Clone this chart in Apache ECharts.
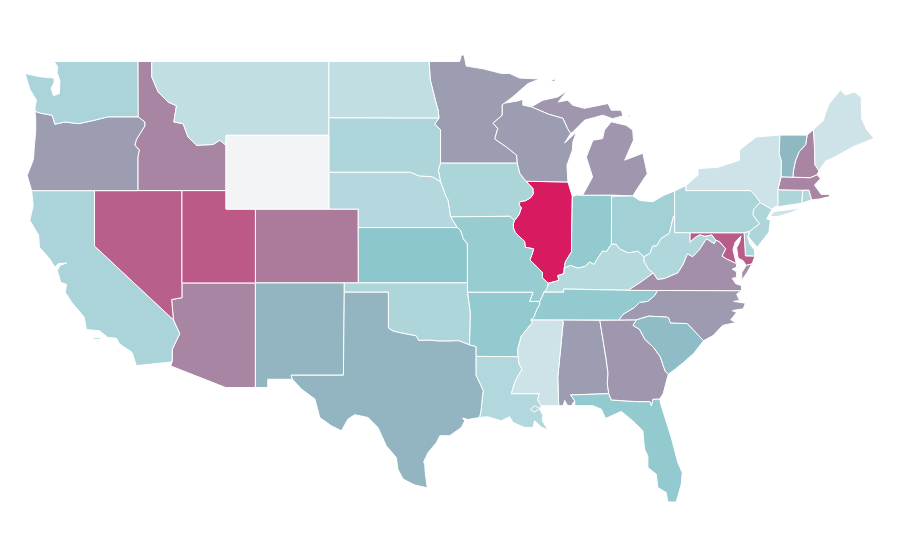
<!DOCTYPE html>
<html>
<head>
<meta charset="utf-8">
<title>US states</title>
<script src="https://cdn.jsdelivr.net/npm/echarts@6/dist/echarts.min.js"></script>
<style>
html, body { margin: 0; padding: 0; background: #fff; }
#chart { width: 900px; height: 560px; }
</style>
</head>
<body>
<div id="chart"></div>
<script>
var stateNames = ['AL','AZ','AR','CA','CO','CT','DE','FL','GA','ID','IL','IN','IA','KS','KY','LA','ME','MD','MA','MI','MN','MS','MO','MT','NE','NV','NH','NJ','NM','NY','NC','ND','OH','OK','OR','PA','RI','SC','SD','TN','TX','UT','VT','VA','WA','WV','WI','WY'];
var stateValues = [62,69,46,35,72,33,34,46,64,69,100,46,34,49,29,31,18,81,69,64,62,18,44,24,30,80,69,33,55,18,63,24,39,33,62,34,30,53,33,46,55,82,54,66,35,32,62,0];
var scaleColors = ['#f3f4f6','#8ac6cc','#d81b60'];

// shared borders, lon,lat (NAME_R in a shape means walk it backwards)
var borders = {
  WIMN: '-92.1,46.74 -92.25,46.66 -92.25,46.09 -92.88,45.65 -92.55,45.38 -92.76,44.8 -91.97,44.37 -91.27,43.92 -91.22,43.5',
  WIIA: '-91.22,43.5 -91.15,43.25 -91.06,42.95 -90.64,42.51',
  IAIL: '-90.64,42.51 -90.42,42.33 -90.17,42.12 -90.14,41.83 -90.34,41.6 -90.66,41.46 -91.05,41.4 -91.11,41.24 -90.95,41.07 -91.11,40.7 -91.42,40.38',
  MOIL: '-91.42,40.38 -91.5,40.2 -91.5,40 -91.37,39.73 -90.73,39.25 -90.68,38.93 -90.12,38.85 -90.2,38.6 -90.37,38.25 -89.9,37.88 -89.52,37.57 -89.52,37.28 -89.13,36.98',
  MOKY: '-89.13,36.98 -89.2,36.7 -89.42,36.5',
  MOTN: '-89.42,36.5 -89.53,36.25 -89.7,36',
  ARTN: '-89.7,36 -89.7,35.82 -89.9,35.55 -90.1,35.13 -90.3,35',
  ARMS: '-90.3,35 -90.2,34.85 -90.57,34.5 -90.95,34.12 -91.08,33.75 -91.2,33.4 -91.17,33',
  LAMS: '-91.17,33 -91.1,32.6 -90.9,32.33 -91.15,32 -91.4,31.6 -91.63,31 -89.73,31 -89.85,30.67 -89.6,30.35',
  ILKY: '-89.13,36.98 -88.6,37.09 -88.4,37.15 -88.47,37.4 -88.06,37.5 -88.03,37.8',
  INKY: '-88.03,37.8 -87.6,37.95 -87.1,37.8 -86.6,37.9 -86.3,38.13 -86,38 -85.8,38.27 -85.43,38.73 -85.17,38.69 -84.82,39.1',
  OHKY: '-84.82,39.1 -84.5,39.1 -84.23,38.83 -83.68,38.63 -83.03,38.73 -82.6,38.42',
  OHWV: '-82.6,38.42 -82.2,38.6 -82,39 -81.75,39 -81.45,39.4 -80.87,39.7 -80.6,40.6 -80.52,40.64',
  ILIN: '-88.03,37.8 -87.95,38.15 -87.53,38.7 -87.53,39.35 -87.48,41.68',
  KYWV: '-82.6,38.42 -82.6,38.17 -82.3,37.75 -81.97,37.54',
  KYVA: '-81.97,37.54 -82.72,37.1 -83.68,36.6',
  KYTN: '-89.42,36.5 -88.07,36.5 -88.07,36.67 -83.68,36.6',
  VAWV: '-81.97,37.54 -81.68,37.2 -81.23,37.24 -80.3,37.55 -79.95,38 -79.65,38.58 -79.3,38.42 -78.87,38.77 -78.35,39.4 -77.83,39.13 -77.72,39.32',
  MDWV: '-77.72,39.32 -78,39.6 -78.45,39.52 -78.8,39.6 -79.1,39.47 -79.48,39.2 -79.48,39.72',
  MDVA: '-76.32,38.05 -77,38.3 -77.3,38.45 -77.05,38.85 -77.45,39.22 -77.72,39.32',
  NCTN: '-84.32,34.99 -84.03,35.3 -83.24,35.68 -82.9,35.95 -82.35,36 -81.9,36.3 -81.68,36.59',
  NCSC: '-78.55,33.87 -79.67,34.8 -80.8,34.82 -80.93,35.1 -81.05,35.15 -82.3,35.2 -83.11,35',
  GASC: '-83.11,35 -83.35,34.7 -82.9,34.48 -82.55,33.95 -81.95,33.5 -81.5,33 -81.15,32.2 -80.95,32.05',
  ALGA: '-85.61,34.98 -85.18,32.87 -85.05,32.1 -85.1,31.55 -85,31',
  FLGA: '-85,31 -84.83,30.66 -83.13,30.57 -82.2,30.57 -82.1,30.35 -82,30.7 -81.54,30.71',
  ALMS: '-88.2,35 -88.1,34.9 -88.47,31.9 -88.41,30.35',
  LATX: '-93.8,29.71 -93.7,30.05 -93.55,31.18 -94.04,32 -94.04,33.02',
  OKTX: '-94.48,33.64 -95.2,33.87 -96,33.85 -96.6,33.85 -97.2,33.9 -97.95,33.88 -98.1,34.13 -99.2,34.3 -99.7,34.4 -100,34.56 -100,36.5 -103,36.5',
  NMTX: '-103,36.5 -103.06,32 -106.62,32 -106.53,31.78',
  IANE: '-96.45,42.49 -96.1,41.7 -95.95,41.5 -95.85,41 -95.77,40.58',
  MNSD: '-96.45,43.5 -96.45,45.3 -96.85,45.6 -96.56,45.93',
  MNND: '-96.56,45.93 -96.6,46.3 -96.8,46.9 -97.15,48 -97.23,49',
  IASD: '-96.45,43.5 -96.6,43.1 -96.45,42.49',
  NESD: '-96.45,42.49 -97,42.75 -97.9,42.8 -98.5,43 -104.05,43',
  KSMO: '-95.31,40 -95.1,39.87 -94.9,39.4 -94.62,39.11 -94.62,37',
  IDMT: '-116.1,49 -116.1,48.16 -115.67,47.35 -114.99,46.8 -114.42,46.6 -114.6,45.72 -113.97,45.63 -113.63,44.9 -113.06,44.46 -111.93,44.5 -111.47,44.73 -111.05,44.46',
  IDOR: '-117.05,42 -117.05,43.83 -116.95,44.2 -117.25,44.46 -117.15,44.77 -116.58,45.5 -116.58,45.72 -117.03,46',
  ORWA: '-124.05,46.3 -123.67,46.2 -122.87,46.08 -122.7,45.6 -122,45.72 -121.1,45.63 -120.2,45.78 -119.07,46 -117.03,46',
  AZCA: '-114.63,35 -114.2,34.25 -114.7,33.42 -114.72,32.72',
  NJNY: '-75.35,42 -75.05,41.75 -74.7,41.36 -73.9,40.99',
  NJPA: '-74.7,41.36 -75.13,41 -75.2,40.7 -74.75,40.2 -75.41,39.8',
  VTNH: '-71.5,45.01 -71.6,44.5 -72.05,44.1 -72.3,43.6 -72.45,43 -72.46,42.73',
  NYVT: '-73.35,45.01 -73.4,44 -73.25,43.6 -73.27,42.75',
  MENH: '-71.08,45.3 -71,44.3 -70.98,43.4 -70.7,43.07'
};

var shapes = {
  WA: ['-124.73,48.35 -123.7,48.17 -122.75,48.1 -122.75,47.85 -122.95,47.55 -122.8,47.15 -122.4,47.25 -122.35,47.95 -122.55,48.4 -122.5,48.7 -122.75,49 -117.05,49 -117.03,46 ORWA_R -124.05,46.5 -123.95,46.9 -124.4,47.5'],
  OR: ['ORWA IDOR_R -124.28,42 -124.58,42.83 -124.15,43.7 -124.1,44.37 -124,45.2 -124,45.9'],
  CA: ['-124.28,42 -120,42 -120,39 AZCA -117.15,32.52 -117.45,33.24 -118.3,33.7 -118.5,34 -119.1,34.05 -119.65,34.41 -120.55,34.47 -120.7,35.14 -121.55,35.95 -122,36.5 -121.9,36.91 -122.3,37.04 -122.53,37.67 -122.35,37.95 -121.9,38.08 -122.45,38.05 -122.7,37.85 -123.05,38.31 -123.75,38.94 -123.8,39.58 -124.4,40.39 -124.17,41.2'],
  NV: ['-120,42 -114.05,42 -114.05,36.2 -114.75,36.1 -114.63,35 -120,39'],
  ID: ['-117.05,49 IDMT -111.05,42 IDOR -117.05,46.42'],
  MT: ['-116.1,49 -104.05,49 -104.05,45 -111.05,45 IDMT_R'],
  WY: ['-111.05,45 -104.05,45 -104.05,41 -111.05,41'],
  UT: ['-114.05,42 -111.05,42 -111.05,41 -109.05,41 -109.05,37 -114.05,37'],
  AZ: ['-114.05,37 -109.05,37 -109.05,31.33 -111.07,31.33 -114.81,32.5 AZCA_R -114.75,36.1 -114.05,36.2'],
  CO: ['-109.05,41 -102.05,41 -102.05,37 -109.05,37'],
  NM: ['-109.05,37 -103,37 NMTX -108.21,31.78 -108.21,31.33 -109.05,31.33'],
  ND: ['-104.05,49 -97.23,49 MNND_R -104.05,45.94'],
  SD: ['-104.05,45.94 -96.56,45.93 MNSD_R IASD NESD'],
  NE: ['NESD_R IANE -95.31,40 -102.05,40 -102.05,41 -104.05,41'],
  KS: ['-102.05,40 KSMO -102.04,37'],
  OK: ['-103,37 -94.62,37 -94.62,36.5 -94.43,35.39 OKTX'],
  TX: ['NMTX -105.92,31.25 -105,30.71 -104.67,29.71 -103.88,29.26 -103.2,28.99 -102.75,29.62 -102.29,29.86 -101.39,29.71 -100.71,29.17 -100.14,28.17 -99.46,27.54 -99.35,26.9 -99,26.37 -98.2,26.05 -97.35,25.9 -97.48,26.64 -97.53,27.18 -97.6,27.3 -97.3,27.81 -96.73,28.35 -96.5,28.72 -95.83,28.72 -95.03,29.17 -94.8,29.53 -94.95,29.68 -94.6,29.6 LATX -94.04,33.55 OKTX'],
  MN: ['MNND -95.15,49 -95.03,49.35 -94.85,49.35 -94.7,48.75 -93.55,48.6 -92.3,48.35 -91.75,48.35 -91.07,48.1 -89.7,48.05 -90.5,47.8 -91.55,47.07 WIMN -96.45,43.5 MNSD'],
  IA: ['-96.45,43.5 -91.22,43.5 WIIA IAIL -91.73,40.61 -95.77,40.58 IANE_R IASD_R'],
  MO: ['-95.77,40.58 -91.73,40.61 -91.42,40.38 MOIL MOKY MOTN -90.38,36 -90.15,36.5 -94.62,36.5 -94.62,37 KSMO_R'],
  AR: ['-94.62,36.5 -90.15,36.5 -90.38,36 ARTN ARMS -94.04,33.02 -94.04,33.55 -94.48,33.64 -94.43,35.39'],
  LA: ['-94.04,33.02 LAMS -89.7,30.16 -89.48,29.8 -89.52,29.53 -89.14,29.02 -89.6,29.2 -90.05,29.53 -90.16,29.17 -90.73,29.17 -91.52,29.44 -91.75,29.75 -92.32,29.53 -93.24,29.75 LATX', '-90.34,30.15 -90.05,30.35 -89.7,30.2 -90.05,30'],
  WI: ['WIMN WIIA -87.78,42.47 -87.85,43.37 -87.48,44.19 -87.44,44.64 -87.2,45.18 -88,44.58 -87.6,45.1 -87.8,45.35 -88.12,45.92 -89.09,46.14 -90.27,46.54 -90.85,46.63 -90.85,46.95 -91.2,46.86'],
  IL: ['-90.64,42.51 -87.78,42.47 -87.48,41.68 ILIN_R ILKY_R MOIL_R IAIL_R'],
  IN: ['-87.48,41.68 -87.2,41.76 -86.78,41.75 -84.81,41.76 -84.82,39.1 INKY_R ILIN'],
  OH: ['-84.81,41.7 -83.36,41.71 -82.9,41.47 -82,41.4 -81.25,41.75 -80.52,41.98 -80.52,40.64 OHWV_R OHKY_R'],
  KY: ['KYTN KYVA_R KYWV_R OHKY_R INKY_R ILKY_R MOKY'],
  TN: ['-89.42,36.5 -88.07,36.5 -88.07,36.67 -83.68,36.6 -81.68,36.59 NCTN_R -90.3,35 ARTN_R MOTN_R'],
  MS: ['-90.3,35 ALMS LAMS_R ARMS_R'],
  AL: ['-88.2,35 ALGA -87.6,30.93 -87.32,30.62 -87.55,30.35 -87.8,30.35 -88,30.63 -88.1,30.35 ALMS_R'],
  GA: ['-85.61,34.98 -84.32,34.99 -83.11,35 GASC -81,32.07 -81.3,31 FLGA_R ALGA_R'],
  FL: ['-87.6,30.93 -85,31 FLGA -81.43,30.35 -80.75,28.63 -80.3,27.27 -80,26.72 -80.07,26.09 -80.41,25.13 -80.98,25.13 -81.09,25.64 -81.66,25.91 -81.77,26.64 -82.34,27 -82.34,27.63 -82.57,28 -82.68,28.99 -83.37,29.53 -84.15,30.04 -85.21,29.66 -85.51,30.16 -86.08,30.35 -87.32,30.35 -87.32,30.62'],
  SC: ['GASC -80.45,32.35 -79.9,32.7 -79.2,33.2 NCSC'],
  NC: ['-81.68,36.59 -75.95,36.58 -76.3,36.4 -76.1,36.05 -76.5,36 -75.7,35.9 -75.85,35.6 -76.6,35.5 -76.3,35.4 -76.7,35 -76.35,34.85 -77.25,34.7 -77.9,34.15 NCSC -84.32,34.99 NCTN'],
  VA: ['-83.68,36.6 -81.68,36.59 -75.95,36.58 -75.98,36.86 -76.35,36.95 -76.6,37.25 -76.3,37.3 -76.3,37.6 -76.6,37.75 -76.3,37.85 MDVA VAWV_R KYVA'],
  WV: ['-80.52,40.64 -80.52,39.72 -79.48,39.72 MDWV_R VAWV_R KYWV_R OHWV'],
  MD: ['-79.48,39.72 -75.79,39.72 -75.7,38.46 -75.05,38.45 -75.25,38.03 -75.65,37.95 -75.85,38.2 -76.2,38.35 -76.3,38.9 -76.1,39.2 -76,39.55 -76.4,39.2 -76.55,38.8 -76.4,38.3 MDVA MDWV'],
  DE: ['-75.79,39.72 -75.41,39.8 -75.55,39.5 -75.4,39.1 -75.1,38.8 -75.05,38.45 -75.7,38.46'],
  PA: ['-80.52,41.98 -79.76,42.27 -79.76,42 -75.35,42 -75.05,41.75 NJPA -75.79,39.72 -80.52,39.72'],
  NJ: ['-73.9,40.99 -74.25,40.47 -74,40.4 -74.1,39.75 -74.9,38.93 -75.5,39.5 -75.41,39.8 NJPA_R'],
  NY: ['-79.76,42.27 -78.93,42.85 -78.93,43.2 -77.6,43.26 -76.1,43.65 -76.1,44.2 -74.97,44.91 NYVT -73.5,42.05 -73.49,41.2 -73.73,41.1 NJNY_R -79.76,42'],
  CT: ['-73.5,42.05 -71.8,42.02 -71.86,41.32 -73.73,41.1 -73.49,41.2'],
  RI: ['-71.8,42.02 -71.38,42.02 -71.2,41.5 -71.86,41.32'],
  MA: ['-73.5,42.05 -73.27,42.75 -72.46,42.73 -71.3,42.7 -70.82,42.87 -70.6,42.65 -71,42.3 -70.55,41.8 -70,41.8 -70.1,42.05 -69.95,41.68 -70.65,41.55 -71.2,41.5 -71.38,42.02 -71.8,42.02'],
  VT: ['NYVT_R VTNH'],
  NH: ['VTNH_R -71.08,45.3 MENH -70.82,42.87 -71.3,42.7'],
  ME: ['MENH_R -70.4,45.8 -70.25,46.2 -70,46.7 -69.23,47.46 -68.9,47.18 -68.3,47.35 -67.82,47.07 -67.79,45.9 -67.45,45.3 -66.95,44.84 -68.4,44.37 -69,44.1 -69.8,43.75 -70.25,43.6']
};
// islands and the other half of split states
var extraParts = {
  MI: [
    '-90.27,46.54 -89.09,46.14 -88.12,45.92 -87.8,45.35 -87.6,45.1 -87.45,45.18 -86.65,45.82 -85.4,46.09 -84.75,45.9 -84.04,46.05 -84.15,46.36 -84.83,46.36 -85.05,46.72 -86.65,46.46 -87.45,46.63 -87.8,46.9 -88.45,46.8 -87.8,47.45 -88.45,47.08 -89.48,46.9',
    '-86.78,41.75 -86.1,42.74 -86.53,43.82 -86.08,44.73 -85.42,44.82 -85.29,45.28 -84.83,45.73 -83.81,45.54 -83.37,45.28 -83.32,44.73 -83.92,43.65 -82.68,44.03 -82.38,42.92 -83.13,42.02 -83.36,41.71 -84.81,41.76',
    '-89.07,47.9 -88.6,48.08 -88.7,47.92',
    '-83.75,46.06 -83.5,46.08 -83.55,45.98'
  ],
  NY: ['-74.03,40.6 -73.75,40.87 -72.6,40.98 -71.9,41.07 -72.5,40.83 -73.5,40.6'],
  VA: ['-75.65,37.95 -75.25,38.03 -75.6,37.55 -75.95,37.15 -75.95,37.55'],
  CA: ['-120.1,34.02 -119.6,34.03 -119.6,33.93 -120.1,33.93', '-118.55,33.42 -118.3,33.35 -118.35,33.28'],
  MA: ['-70.1,41.3 -70,41.25 -70.1,41.22']
};

// token: plain coord, border name, or border name with _R (reversed)
function walk(text) {
  var out = [];
  text.split(' ').forEach(function (t) {
    var key = t.replace(/_R$/, '');
    if (borders[key]) {
      var pts = borders[key].split(' ');
      if (key !== t) pts = pts.slice().reverse();
      pts.forEach(function (p) { out.push(p.split(',').map(Number)); });
    } else {
      out.push(t.split(',').map(Number));
    }
  });
  out.push(out[0]);
  return out;
}

var features = stateNames.map(function (name) {
  var polys = [];
  if (shapes[name]) polys.push(shapes[name].map(walk));
  (extraParts[name] || []).forEach(function (p) { polys.push([walk(p)]); });
  return {
    type: 'Feature',
    properties: { name: name },
    geometry: { type: 'MultiPolygon', coordinates: polys }
  };
});

echarts.registerMap('USA', { type: 'FeatureCollection', features: features });

var myChart = echarts.init(document.getElementById('chart'));
myChart.setOption({
  animation: false,
  backgroundColor: '#fff',
  visualMap: {
    show: false,
    min: 0,
    max: 100,
    inRange: { color: scaleColors }
  },
  series: [{
    type: 'map',
    map: 'USA',
    aspectScale: 0.798,
    left: 25,
    top: 55,
    width: 849,
    height: 447,
    silent: true,
    label: { show: false },
    itemStyle: { borderColor: '#fff', borderWidth: 1 },
    data: stateNames.map(function (n, i) { return { name: n, value: stateValues[i] }; })
  }]
});
</script>
</body>
</html>
